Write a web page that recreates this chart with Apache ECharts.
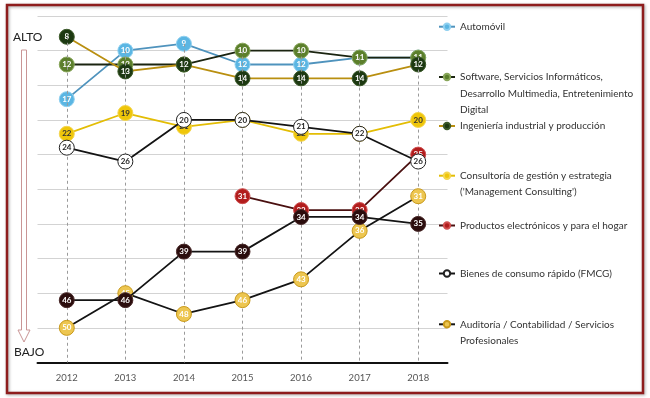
<!DOCTYPE html>
<html><head><meta charset="utf-8">
<script src="https://cdn.jsdelivr.net/npm/echarts@6/dist/echarts.min.js"></script>
<style>html,body{margin:0;padding:0;background:#fff}#c{width:650px;height:398px}</style>
</head><body><div id="c"></div>
<script>
const years = ['2012','2013','2014','2015','2016','2017','2018'];
const automovil   = [17, 10, 9, 12, 12, 11, 11];
const software    = [12, 12, 12, 10, 10, 11, 11];
const ingenieria  = [8, 13, 12, 14, 14, 14, 12];
const consultoria = [22, 19, 21, 20, 22, 22, 20];
const productos   = [null, null, null, 31, 33, 33, 25];
const fmcg        = [24, 26, 20, 20, 21, 22, 26];
const auditoria   = [50, 45, 48, 46, 43, 36, 31];
const otros       = [46, 46, 39, 39, 34, 34, 35];
const rankTicks = [5, 10, 15, 20, 25, 30, 35, 40, 45, 50, 55];

const names = {
  auto: 'Automóvil',
  soft: 'Software, Servicios Informáticos,\nDesarrollo Multimedia, Entretenimiento\nDigital',
  ing: 'Ingeniería industrial y producción',
  cons: 'Consultoría de gestión y estrategia\n(\'Management Consulting\')',
  prod: 'Productos electrónicos y para el hogar',
  fmcg: 'Bienes de consumo rápido (FMCG)',
  aud: 'Auditoría / Contabilidad / Servicios\nProfesionales',
  otros: 'Otros'
};

const allSeries = [automovil, software, ingenieria, consultoria, productos, fmcg, auditoria, otros];
const topRank = years.map((y, i) => Math.min(...allSeries.map(s => s[i]).filter(v => v != null)));
const bottomRank = rankTicks[rankTicks.length - 1];

function mk(name, data, line, fill, border, labelColor, z) {
  return {
    name, type: 'line', data, z,
    symbol: 'circle', symbolSize: 15,
    lineStyle: { color: line, width: 1.8 },
    itemStyle: { color: fill, borderColor: border, borderWidth: 1 },
    label: { show: true, position: 'inside', color: labelColor, fontSize: 8, fontWeight: 'bold',
             fontFamily: 'Lato', formatter: p => p.value },
    emphasis: { disabled: true },
    connectNulls: false
  };
}

const LH = 16.4;
function legendFor(name, centerY) {
  const n = name.split('\n').length;
  const H = (2 * n - 1) * LH;
  return {
    data: [name], orient: 'vertical', left: 438, top: centerY - H / 2, padding: 0,
    itemWidth: 16, itemHeight: 8, selectedMode: false,
    formatter: nm => '\n'.repeat(nm.split('\n').length - 1) + nm,
    textStyle: { fontFamily: 'Lato', fontSize: 10, color: '#333', lineHeight: LH }
  };
}

const chart = echarts.init(document.getElementById('c'), null, { renderer: 'canvas' });
chart.setOption({
  backgroundColor: '#fff',
  animation: false,
  grid: { left: 37.5, right: 202.5, top: 16, bottom: 35.5 },
  xAxis: {
    type: 'category', data: years, boundaryGap: true,
    axisLine: { lineStyle: { color: '#111', width: 2 } },
    axisTick: { show: false },
    axisLabel: { color: '#555', fontSize: 9.5, fontFamily: 'Lato', margin: 10 },
    splitLine: { show: false }
  },
  yAxis: {
    type: 'value', inverse: true, min: 5, max: 55, interval: 5,
    axisLine: { show: false }, axisTick: { show: false }, axisLabel: { show: false },
    splitLine: { lineStyle: { color: '#d3d3d3', width: 1 } }
  },
  legend: [
    legendFor(names.auto, 26.7),
    legendFor(names.soft, 77),
    legendFor(names.ing, 126),
    legendFor(names.cons, 175.7),
    legendFor(names.prod, 225.5),
    legendFor(names.fmcg, 273.5),
    legendFor(names.aud, 324.3)
  ],
  series: [
    {
      name: 'guides', type: 'line', data: [], silent: true, z: 1,
      markLine: {
        silent: true, symbol: 'none', label: { show: false },
        lineStyle: { color: '#9a9a9a', type: [3, 3], width: 1 },
        data: years.map((y, i) => [{ coord: [y, topRank[i]] }, { coord: [y, bottomRank] }])
      }
    },
    mk(names.auto, automovil, '#4f93bd', '#5bb6e3', '#8fd0f0', '#fff', 2),
    mk(names.soft, software, '#1b2410', '#5c7f2c', '#88a65a', '#fff', 3),
    mk(names.ing, ingenieria, '#b98f10', '#1d3912', '#3c5a2a', '#fff', 4),
    mk(names.cons, consultoria, '#e3bd05', '#efc60a', '#f4d650', '#333', 5),
    mk(names.aud, auditoria, '#141414', '#edc650', '#c99a1c', '#fff', 6),
    mk(names.prod, productos, '#4a1010', '#b21d1d', '#d05050', '#fff', 7),
    mk(names.otros, otros, '#141414', '#2b0d0d', '#4a2a2a', '#fff', 8),
    mk(names.fmcg, fmcg, '#141414', '#ffffff', '#222222', '#222', 9)
  ],
  graphic: [
    { type: 'rect', shape: { x: 7, y: 5, width: 636, height: 388 },
      style: { fill: 'none', stroke: '#8e1d1d', lineWidth: 2.5, shadowBlur: 3, shadowColor: 'rgba(0,0,0,0.35)', shadowOffsetX: 1, shadowOffsetY: 1 }, z: 100 },
    { type: 'text', left: 13, top: 31, style: { text: 'ALTO', fontFamily: 'Lato', fontSize: 12, fill: '#222' }, z: 100 },
    { type: 'text', left: 14, top: 346, style: { text: 'BAJO', fontFamily: 'Lato', fontSize: 12, fill: '#222' }, z: 100 },
    { type: 'polygon', shape: { points: [[21.5, 50], [26.5, 50], [26.5, 330], [30, 330], [24, 342], [18, 330], [21.5, 330]] },
      style: { fill: '#fff', stroke: '#c99595', lineWidth: 1 }, z: 100 }
  ]
});
</script>
</body></html>
